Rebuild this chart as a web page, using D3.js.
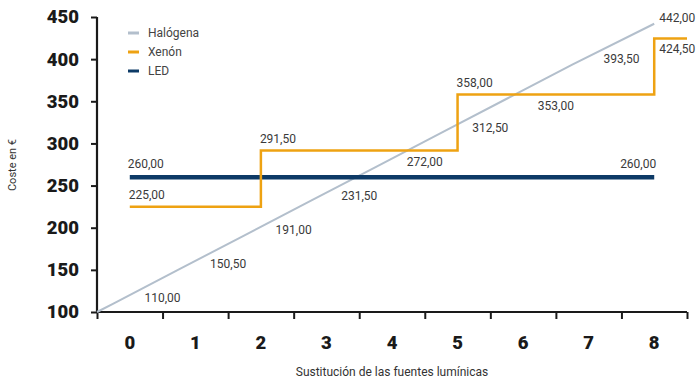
<!DOCTYPE html>
<html>
<head>
<meta charset="utf-8">
<script src="https://cdn.jsdelivr.net/npm/d3@7/dist/d3.min.js"></script>
<style>
  html, body { margin: 0; padding: 0; background: #fff; }
  svg { display: block; font-family: Roboto, "Noto Sans", sans-serif; }
</style>
</head>
<body>
<svg id="chart" width="697" height="379"></svg>
<script>
// Number of light-source replacements
const replacements = [0, 1, 2, 3, 4, 5, 6, 7, 8];

// Accumulated cost (€) per technology
const halogenCost = [110, 150.5, 191, 231.5, 272, 312.5, 353, 393.5, 442];
const xenonCost   = [225, 225, 291.5, 291.5, 291.5, 358, 358, 358, 424.5];
const ledCost     = [260, 260, 260, 260, 260, 260, 260, 260, 260];

const yTicks = [100, 150, 200, 250, 300, 350, 400, 450];

const seriesNames = ["Halógena", "Xenón", "LED"];
const colors = { "Halógena": "#b3bfcc", "Xenón": "#eea212", "LED": "#0d3a66" };

const fmt = v => d3.format(".2f")(v).replace(".", ",");

const svg = d3.select("#chart");
const plotLeft = 97, plotRight = 687, plotTop = 17, plotBottom = 312;

const y = d3.scaleLinear().domain([100, 450]).range([plotBottom, plotTop]);
const xBand = d3.scaleBand().domain(replacements).range([plotLeft, plotRight]).padding(0);
// continuous index scale: band n is centred on n
const x = d3.scaleLinear()
  .domain([replacements[0] - 0.5, replacements[replacements.length - 1] + 0.5])
  .range([plotLeft, plotRight]);

// ---- axes ----
const yAxis = svg.append("g")
  .attr("transform", `translate(${plotLeft},0)`)
  .call(d3.axisLeft(y).tickValues(yTicks).tickSize(6).tickPadding(12).tickFormat(d3.format("d")));
yAxis.select(".domain").attr("stroke", "#1a1a1a").attr("stroke-width", 2.2).attr("d", `M0,${plotBottom + 1}V${plotTop}`);
yAxis.selectAll(".tick line").attr("stroke", "#1a1a1a").attr("stroke-width", 2);
yAxis.selectAll(".tick text")
  .attr("fill", "#1a1a1a").attr("font-size", 18.5).attr("font-weight", 900)
  .attr("font-family", "Roboto, sans-serif");

const boundaries = d3.range(replacements.length + 1).map(i => i - 0.5);
const xTickAxis = svg.append("g")
  .attr("transform", `translate(0,${plotBottom})`)
  .call(d3.axisBottom(x).tickValues(boundaries).tickSize(7).tickFormat(""));
xTickAxis.select(".domain").attr("stroke", "#1a1a1a").attr("stroke-width", 2.2).attr("d", `M${plotLeft - 1},0H${plotRight}`);
xTickAxis.selectAll(".tick line").attr("stroke", "#1a1a1a").attr("stroke-width", 2);

const xLabelAxis = svg.append("g")
  .attr("transform", `translate(0,${plotBottom})`)
  .call(d3.axisBottom(xBand).tickSize(0).tickPadding(24));
xLabelAxis.select(".domain").remove();
xLabelAxis.selectAll(".tick text")
  .attr("fill", "#1a1a1a").attr("font-size", 18.5).attr("font-weight", 900)
  .attr("font-family", "Roboto, sans-serif");

// axis titles
svg.append("text")
  .attr("transform", "translate(16,165) rotate(-90)")
  .attr("text-anchor", "middle")
  .attr("font-size", 11).attr("fill", "#333")
  .text("Coste en €");
svg.append("text")
  .attr("x", 392).attr("y", 376)
  .attr("text-anchor", "middle")
  .attr("font-size", 12).attr("fill", "#333")
  .text("Sustitución de las fuentes lumínicas");

// ---- lines ----
const line = d3.line().x(d => x(d[0])).y(d => y(d[1]));

// Halógena: rising from the axis origin through each accumulated cost
const last = replacements.length - 1;
const halogenPts = [[x.domain()[0], y.domain()[0]]]
  .concat(replacements.map((r, i) => [i === last ? r : r - 0.25, halogenCost[i]]));
svg.append("path")
  .attr("d", line(halogenPts))
  .attr("fill", "none").attr("stroke", colors["Halógena"]).attr("stroke-width", 2);

// LED: flat cost
const ledPts = replacements.map((r, i) => [r, ledCost[i]]);
svg.append("path")
  .attr("d", line(ledPts))
  .attr("fill", "none").attr("stroke", colors["LED"]).attr("stroke-width", 4.5);

// Xenón: stepped cost, held to the end of the axis
const xenonPts = replacements.map((r, i) => [r, xenonCost[i]]).concat([[x.domain()[1], xenonCost[last]]]);
svg.append("path")
  .attr("d", line.curve(d3.curveStepAfter)(xenonPts))
  .attr("fill", "none").attr("stroke", colors["Xenón"]).attr("stroke-width", 2.5);
line.curve(d3.curveLinear);

// ---- value labels ----
const labelG = svg.append("g").attr("font-size", 12).attr("fill", "#3a3a3a");
function label(px, py, txt, anchor) {
  labelG.append("text")
    .attr("x", px).attr("y", py)
    .attr("dy", "0.35em")
    .attr("text-anchor", anchor || "start")
    .text(txt);
}

// LED
label(x(replacements[0]) - 2, y(ledCost[0]) - 13, fmt(ledCost[0]));
label(x(replacements[last]) + 2, y(ledCost[last]) - 13, fmt(ledCost[last]), "end");

// Xenón: one label at each step
const xenonSteps = replacements.filter((r, i) => i === 0 || xenonCost[i] !== xenonCost[i - 1]);
xenonSteps.forEach(r => {
  const v = xenonCost[r];
  const below = r === last;
  label(x(r) + (below ? 5 : -1), y(v) + (below ? 10 : -12), fmt(v));
});

// Halógena: labels sit between replacements, just above the cost level;
// any label that would sit on the Xenón line drops beneath it
replacements.forEach((r, i) => {
  const v = halogenCost[i];
  if (i === last) {
    label(x(r) + 5, y(v) - 6, fmt(v));
    return;
  }
  const cx = x(r + 0.5);
  let cy = y(v) - 5.5;
  const halfW = 18, halfH = 5;
  replacements.forEach((s, j) => {
    const x0 = x(s), x1 = j === last ? x.range()[1] : x(s + 1);
    const ly = y(xenonCost[j]);
    if (cx + halfW > x0 && cx - halfW < x1 && Math.abs(ly - cy) < halfH + 2) cy = ly + 11;
  });
  label(cx, cy, fmt(v), "middle");
});

// ---- legend ----
const legend = svg.append("g").attr("transform", "translate(128,33)");
seriesNames.forEach((name, i) => {
  const g = legend.append("g").attr("transform", `translate(0,${i * 19})`);
  g.append("line").attr("x1", 0).attr("x2", 11).attr("y1", 0).attr("y2", 0)
    .attr("stroke", colors[name]).attr("stroke-width", 3);
  g.append("text").attr("x", 20).attr("y", 0).attr("dy", "0.35em")
    .attr("font-size", 12).attr("fill", "#444").text(name);
});
</script>
</body>
</html>
